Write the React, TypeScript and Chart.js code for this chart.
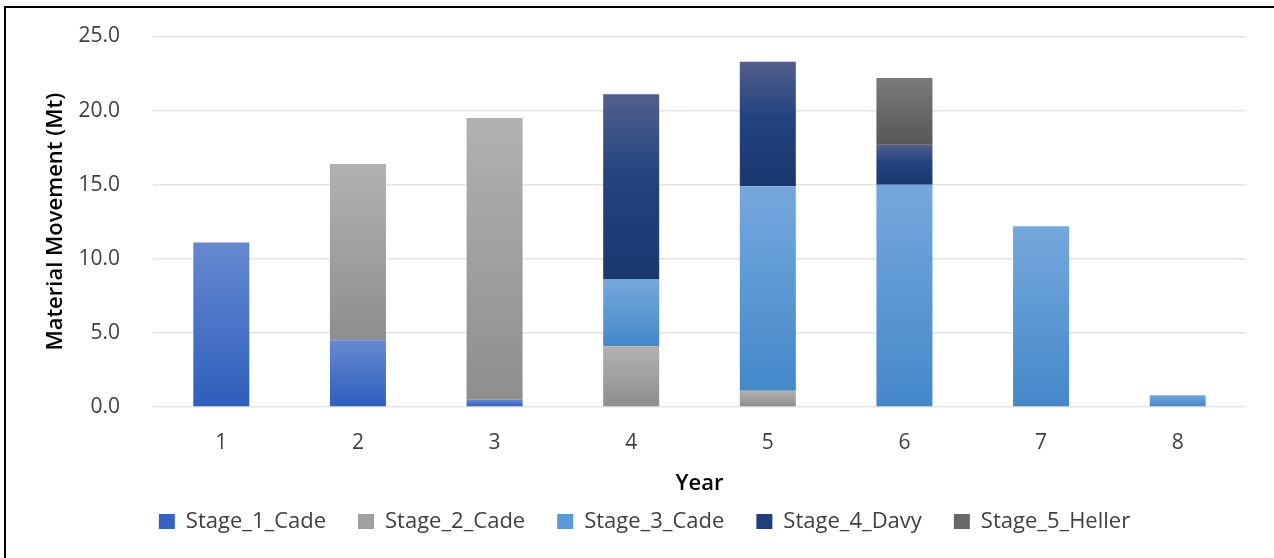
import React, { useEffect, useRef } from "react";
import { Chart, registerables } from "chart.js";

Chart.register(...registerables);

// Years along the x axis
const years = ["1", "2", "3", "4", "5", "6", "7", "8"];

// Material moved per stage, per year (Mt)
const stage1Cade = [11.1, 4.5, 0.5, 0, 0, 0, 0, 0];
const stage2Cade = [0, 11.9, 19.0, 4.1, 1.1, 0, 0, 0];
const stage3Cade = [0, 0, 0, 4.5, 13.8, 15.0, 12.2, 0.8];
const stage4Davy = [0, 0, 0, 12.5, 8.4, 2.7, 0, 0];
const stage5Heller = [0, 0, 0, 0, 0, 4.5, 0, 0];

const seriesNames = ["Stage_1_Cade", "Stage_2_Cade", "Stage_3_Cade", "Stage_4_Davy", "Stage_5_Heller"];

const FONT = "'Open Sans', 'Noto Sans', sans-serif";

type Stop = [number, string];

// Vertical gradient (light at the top, darker at the bottom) for each stacked segment
function segmentFill(stops: Stop[], solid: string) {
  return (ctx: any) => {
    if (ctx.type !== "data") return solid;
    const chart = ctx.chart;
    const y = chart.scales?.y;
    if (!y || !chart.chartArea) return solid;
    const i = ctx.dataIndex;
    let base = 0;
    for (let k = 0; k < ctx.datasetIndex; k++) {
      base += Number(chart.data.datasets[k].data[i]) || 0;
    }
    const top = base + (Number(ctx.raw) || 0);
    const y0 = y.getPixelForValue(top);
    const y1 = y.getPixelForValue(base);
    if (!(y1 > y0)) return solid;
    const g = chart.ctx.createLinearGradient(0, y0, 0, y1);
    stops.forEach(([o, c]) => g.addColorStop(o, c));
    return g;
  };
}

const fills = [
  { stops: [[0, "#6688d0"], [1, "#2e5fbd"]] as Stop[], solid: "#3563c0" },
  { stops: [[0, "#b1b1b1"], [1, "#8e8e8e"]] as Stop[], solid: "#a0a0a0" },
  { stops: [[0, "#75a8dd"], [1, "#4488c9"]] as Stop[], solid: "#5a9ad8" },
  { stops: [[0, "#525f8c"], [0.45, "#23437f"], [1, "#1a386f"]] as Stop[], solid: "#213f7a" },
  { stops: [[0, "#7a7a7a"], [1, "#575757"]] as Stop[], solid: "#686868" },
];

export default function App() {
  const canvasRef = useRef<HTMLCanvasElement | null>(null);

  useEffect(() => {
    const canvas = canvasRef.current;
    if (!canvas) return;
    const series = [stage1Cade, stage2Cade, stage3Cade, stage4Davy, stage5Heller];
    const chart = new Chart(canvas, {
      type: "bar",
      data: {
        labels: years,
        datasets: series.map((data, k) => ({
          label: seriesNames[k],
          data,
          backgroundColor: segmentFill(fills[k].stops, fills[k].solid),
          borderWidth: 0,
          barPercentage: 0.41,
          categoryPercentage: 1,
        })),
      },
      options: {
        animation: false,
        responsive: true,
        maintainAspectRatio: false,
        events: [],
        layout: { padding: { left: 43, right: 28, top: 36.5, bottom: 15.5 } },
        plugins: {
          tooltip: { enabled: false },
          legend: {
            position: "bottom",
            labels: {
              boxWidth: 16,
              boxHeight: 15,
              padding: 32,
              color: "#404040",
              font: { family: FONT, size: 22 },
              generateLabels: (c: any) =>
                Chart.defaults.plugins.legend.labels.generateLabels(c).map((item: any, k: number) => ({
                  ...item,
                  fillStyle: fills[k].solid,
                  strokeStyle: fills[k].solid,
                  lineWidth: 0,
                })),
            },
          },
        },
        scales: {
          x: {
            stacked: true,
            grid: { display: false, drawTicks: false },
            border: { display: false },
            ticks: { color: "#404040", padding: 23, font: { family: FONT, size: 21 } },
            title: {
              display: true,
              text: "Year",
              color: "#000",
              padding: { top: 0, bottom: -18.7 },
              font: { family: FONT, size: 22, weight: "600" },
            },
            afterFit: (s: any) => {
              s.height = 71.5;
            },
          },
          y: {
            stacked: true,
            min: 0,
            max: 25,
            // invisible tick marks keep the labels 33px left of the plot
            grid: { color: "#e1e5ea", lineWidth: 1.6, drawTicks: true, tickLength: 33, tickColor: "rgba(0,0,0,0)" },
            border: { display: false },
            ticks: {
              stepSize: 5,
              padding: 0,
              color: "#404040",
              font: { family: FONT, size: 21 },
              callback: (v: any) => Number(v).toFixed(1),
            },
            title: {
              display: true,
              text: "Material Movement (Mt)",
              color: "#000",
              padding: { top: 0, bottom: 0 },
              font: { family: FONT, size: 22, weight: "600" },
            },
            afterFit: (s: any) => {
              s.width = 110;
            },
          },
        },
      },
    });
    return () => chart.destroy();
  }, []);

  return (
    <>
      <div style={{ position: "fixed", left: 0, top: 0, width: 1274, height: 558, background: "#fff" }}>
        <canvas ref={canvasRef} />
      </div>
      <div
        style={{
          position: "fixed",
          left: 4,
          top: 6,
          width: 1400,
          height: 700,
          borderTop: "2px solid #000",
          borderLeft: "2px solid #000",
          pointerEvents: "none",
        }}
      />
    </>
  );
}
